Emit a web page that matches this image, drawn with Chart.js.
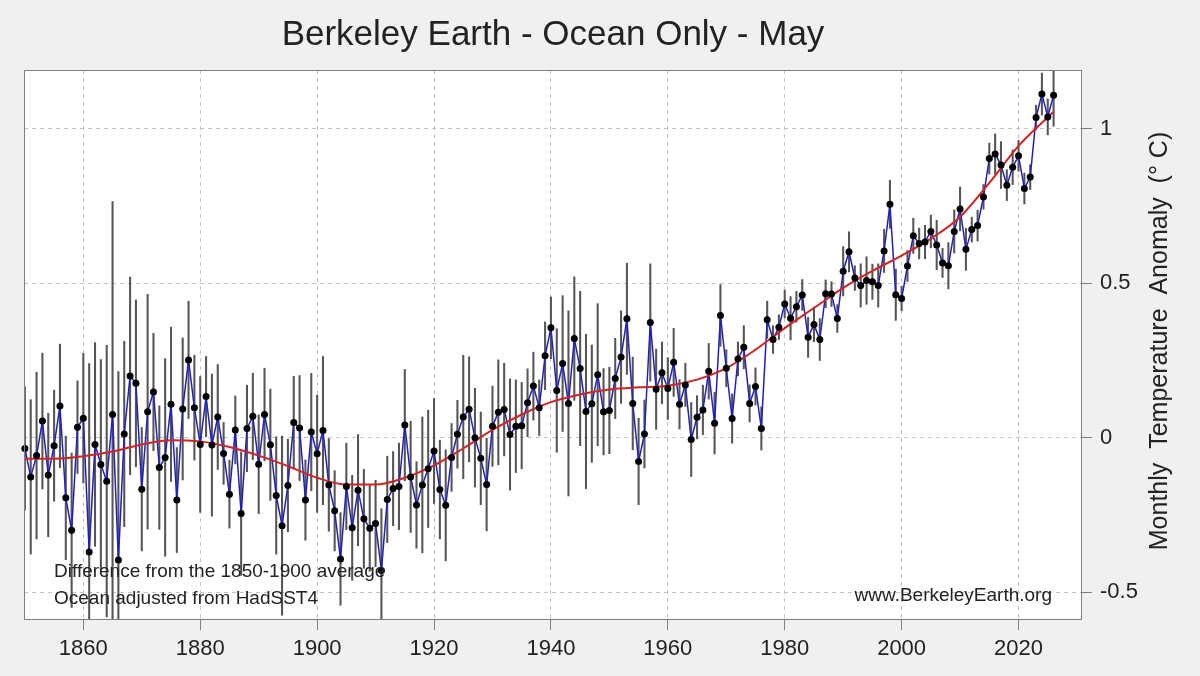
<!DOCTYPE html>
<html>
<head>
<meta charset="utf-8">
<title>Berkeley Earth - Ocean Only - May</title>
<script src="https://cdn.jsdelivr.net/npm/chart.js@4.4.1/dist/chart.umd.min.js"></script>
<style>
  html, body { margin: 0; padding: 0; background: #f0f0f0; }
  canvas { display: block; }
</style>
</head>
<body>
<canvas id="myChart" width="1200" height="676"></canvas>
<script>
// May ocean temperature anomaly, one value per year starting 1850 (deg C vs 1850-1900)
var firstYear = 1850;
var anomaly = [
    -0.035, -0.127, -0.058, 0.054, -0.121, -0.026, 0.103, -0.195, -0.300, 0.034,   // 1850s
    0.063, -0.370, -0.022, -0.087, -0.141, 0.075, -0.396, 0.012, 0.200, 0.176,     // 1860s
    -0.167, 0.084, 0.148, -0.097, -0.064, 0.108, -0.202, 0.093, 0.252, 0.097,      // 1870s
    -0.022, 0.133, -0.024, 0.067, -0.051, -0.183, 0.025, -0.246, 0.030, 0.069,     // 1880s
    -0.086, 0.075, -0.023, -0.187, -0.285, -0.155, 0.049, 0.031, -0.202, 0.018,    // 1890s
    -0.052, 0.023, -0.153, -0.237, -0.393, -0.158, -0.292, -0.170, -0.263, -0.293, // 1900s
    -0.278, -0.430, -0.200, -0.165, -0.158, 0.041, -0.127, -0.218, -0.153, -0.101, // 1910s
    -0.043, -0.168, -0.219, -0.064, 0.011, 0.067, 0.092, 0.000, -0.067, -0.152,    // 1920s
    0.037, 0.082, 0.091, 0.010, 0.037, 0.039, 0.113, 0.167, 0.097, 0.265,          // 1930s
    0.356, 0.153, 0.240, 0.111, 0.321, 0.224, 0.085, 0.110, 0.204, 0.084,          // 1940s
    0.088, 0.192, 0.261, 0.385, 0.111, -0.077, 0.012, 0.373, 0.157, 0.210,         // 1950s
    0.159, 0.244, 0.108, 0.171, -0.006, 0.066, 0.090, 0.215, 0.047, 0.396,         // 1960s
    0.225, 0.062, 0.255, 0.293, 0.111, 0.166, 0.030, 0.382, 0.318, 0.358,          // 1970s
    0.433, 0.387, 0.424, 0.462, 0.325, 0.367, 0.318, 0.466, 0.465, 0.386,          // 1980s
    0.539, 0.602, 0.517, 0.493, 0.509, 0.505, 0.493, 0.605, 0.756, 0.463,          // 1990s
    0.451, 0.556, 0.654, 0.629, 0.634, 0.668, 0.624, 0.566, 0.557, 0.668,          // 2000s
    0.741, 0.610, 0.674, 0.687, 0.780, 0.904, 0.919, 0.883, 0.818, 0.876,          // 2010s
    0.913, 0.807, 0.844, 1.037, 1.113, 1.039, 1.109                                // 2020s
];

// half length of each uncertainty bar
var uncertainty = [
    0.20, 0.25, 0.27, 0.22, 0.20, 0.18, 0.20, 0.20, 0.25, 0.15,
    0.21, 0.61, 0.33, 0.34, 0.44, 0.69, 0.61, 0.30, 0.32, 0.27,
    0.20, 0.38, 0.19, 0.20, 0.32, 0.25, 0.17, 0.23, 0.19, 0.17,
    0.22, 0.13, 0.23, 0.17, 0.10, 0.11, 0.11, 0.20, 0.14, 0.14,
    0.16, 0.15, 0.18, 0.19, 0.29, 0.15, 0.15, 0.17, 0.13, 0.19,
    0.19, 0.24, 0.15, 0.13, 0.15, 0.14, 0.17, 0.18, 0.16, 0.14,
    0.14, 0.20, 0.14, 0.12, 0.14, 0.18, 0.18, 0.14, 0.22, 0.19,
    0.17, 0.16, 0.18, 0.11, 0.11, 0.20, 0.17, 0.16, 0.15, 0.15,
    0.13, 0.17, 0.15, 0.18, 0.15, 0.14, 0.11, 0.11, 0.09, 0.11,
    0.10, 0.20, 0.22, 0.30, 0.20, 0.25, 0.25, 0.19, 0.23, 0.14,
    0.14, 0.13, 0.15, 0.18, 0.15, 0.14, 0.11, 0.19, 0.13, 0.10,
    0.10, 0.11, 0.08, 0.07, 0.12, 0.07, 0.08, 0.09, 0.10, 0.10,
    0.06, 0.08, 0.055, 0.07, 0.06, 0.06, 0.07, 0.06, 0.045, 0.04,
    0.045, 0.07, 0.05, 0.05, 0.065, 0.056, 0.068, 0.045, 0.04, 0.045,
    0.08, 0.065, 0.04, 0.07, 0.077, 0.057, 0.07, 0.07, 0.078, 0.083,
    0.04, 0.05, 0.057, 0.05, 0.054, 0.053, 0.08, 0.047, 0.075, 0.07,
    0.071, 0.068, 0.04, 0.05, 0.04, 0.05, 0.065, 0.076, 0.05, 0.056,
    0.05, 0.05, 0.04, 0.04, 0.068, 0.058, 0.10
];

// smoothed trend (red line), read every 5 years
var trendYears = [1850, 1855, 1860, 1865, 1870, 1875, 1880, 1885, 1890, 1895,
    1900, 1905, 1910, 1915, 1920, 1925, 1930, 1935, 1940, 1945,
    1950, 1955, 1960, 1965, 1970, 1975, 1980, 1985, 1990, 1995,
    2000, 2005, 2010, 2015, 2020, 2026];
var trendValues = [-0.068, -0.068, -0.060, -0.045, -0.022, -0.008, -0.012, -0.030, -0.058, -0.092,
    -0.130, -0.152, -0.152, -0.130, -0.090, -0.035, 0.025, 0.075, 0.115, 0.140,
    0.156, 0.163, 0.168, 0.188, 0.225, 0.285, 0.355, 0.420, 0.485, 0.540,
    0.590, 0.645, 0.715, 0.825, 0.945, 1.056];

var xTicks = [1860, 1880, 1900, 1920, 1940, 1960, 1980, 2000, 2020];
var yTicks = [-0.5, 0, 0.5, 1];

var fontFamily = '"Liberation Sans", Arial, Helvetica, sans-serif';
var textColor = '#222222';

// build the point lists for the library
var years = anomaly.map(function (v, i) { return firstYear + i; });
var pointData = years.map(function (yr, i) { return { x: yr, y: anomaly[i] }; });
var errorData = years.map(function (yr, i) {
    return { x: yr, y: [anomaly[i] - uncertainty[i], anomaly[i] + uncertainty[i]] };
});
var trendData = trendYears.map(function (yr, i) { return { x: yr, y: trendValues[i] }; });

// white plot area, box frame and the extra texts
var decorPlugin = {
    id: 'decor',
    beforeDraw: function (chart) {
        var a = chart.chartArea;
        var ctx = chart.ctx;
        ctx.save();
        ctx.fillStyle = '#ffffff';
        ctx.fillRect(a.left, a.top, a.right - a.left, a.bottom - a.top);
        ctx.restore();
    },
    afterDatasetsDraw: function (chart) {
        var a = chart.chartArea;
        var ctx = chart.ctx;
        ctx.save();
        ctx.fillStyle = textColor;
        ctx.font = '19px ' + fontFamily;
        ctx.textBaseline = 'alphabetic';
        ctx.textAlign = 'left';
        ctx.fillText('Difference from the 1850-1900 average', 54, 577);
        ctx.fillText('Ocean adjusted from HadSST4', 54, 604);
        ctx.textAlign = 'right';
        ctx.fillText('www.BerkeleyEarth.org', 1052, 601);

        ctx.strokeStyle = '#808080';
        ctx.lineWidth = 1;
        ctx.strokeRect(a.left + 0.5, a.top + 0.5, a.right - a.left - 1, a.bottom - a.top - 1);
        ctx.restore();
    },
    afterDraw: function (chart) {
        var ctx = chart.ctx;
        ctx.save();
        ctx.translate(1160, 341);
        ctx.rotate(-Math.PI / 2);
        ctx.fillStyle = textColor;
        ctx.font = '25px ' + fontFamily;
        ctx.textAlign = 'center';
        ctx.textBaseline = 'middle';
        ctx.fillText('Monthly  Temperature  Anomaly  (\u00B0 C)', 0, 0);
        ctx.restore();
    }
};

var ctx = document.getElementById('myChart').getContext('2d');
var myChart = new Chart(ctx, {
    type: 'bar',
    data: {
        datasets: [{
            type: 'scatter',
            label: 'Annual points',
            data: pointData,
            pointRadius: 3.5,
            pointBackgroundColor: '#000000',
            pointBorderWidth: 0,
            showLine: false,
            clip: false,
            order: 0
        },
        {
            type: 'line',
            label: 'Trend',
            data: trendData,
            borderColor: '#cf2525',
            borderWidth: 2,
            pointRadius: 0,
            cubicInterpolationMode: 'monotone',
            fill: false,
            order: 1
        },
        {
            type: 'line',
            label: 'Anomaly',
            data: pointData,
            borderColor: '#2020c0',
            borderWidth: 1.5,
            pointRadius: 0,
            tension: 0,
            fill: false,
            order: 2
        },
        {
            type: 'bar',
            label: 'Uncertainty',
            data: errorData,
            backgroundColor: '#555555',
            borderWidth: 0,
            barThickness: 1.4,
            grouped: false,
            order: 3
        }]
    },
    options: {
        responsive: false,
        animation: false,
        events: [],
        layout: { padding: { left: 24, right: 0, top: 0, bottom: 0 } },
        plugins: {
            legend: { display: false },
            tooltip: { enabled: false },
            title: {
                display: true,
                text: 'Berkeley Earth - Ocean Only - May',
                color: textColor,
                fullSize: false,
                font: { family: fontFamily, size: 35, weight: 'normal', lineHeight: 1.2 },
                padding: { top: 14, bottom: 14 }
            }
        },
        scales: {
            x: {
                type: 'linear',
                min: 1849.85,
                max: 2030.86,
                offset: false,
                afterBuildTicks: function (axis) {
                    axis.ticks = xTicks.map(function (v) { return { value: v }; });
                },
                afterFit: function (axis) { axis.height = 56; },
                ticks: {
                    color: textColor,
                    font: { family: fontFamily, size: 22 },
                    padding: 6,
                    maxRotation: 0,
                    callback: function (v) { return String(v); }
                },
                grid: {
                    offset: false,
                    color: '#c4c4c4',
                    lineWidth: 1,
                    drawTicks: true,
                    tickLength: 10,
                    tickColor: '#808080',
                    tickBorderDash: []
                },
                border: { display: false, dash: [4, 4] }
            },
            y: {
                type: 'linear',
                position: 'right',
                min: -0.5906,
                max: 1.191,
                afterBuildTicks: function (axis) {
                    axis.ticks = yTicks.map(function (v) { return { value: v }; });
                },
                afterFit: function (axis) { axis.width = 118; },
                ticks: {
                    color: textColor,
                    font: { family: fontFamily, size: 22 },
                    padding: 8,
                    callback: function (v) { return String(v); }
                },
                grid: {
                    color: '#c4c4c4',
                    lineWidth: 1,
                    drawTicks: true,
                    tickLength: 10,
                    tickColor: '#808080',
                    tickBorderDash: []
                },
                border: { display: false, dash: [4, 4] }
            }
        }
    },
    plugins: [decorPlugin]
});
</script>
</body>
</html>
